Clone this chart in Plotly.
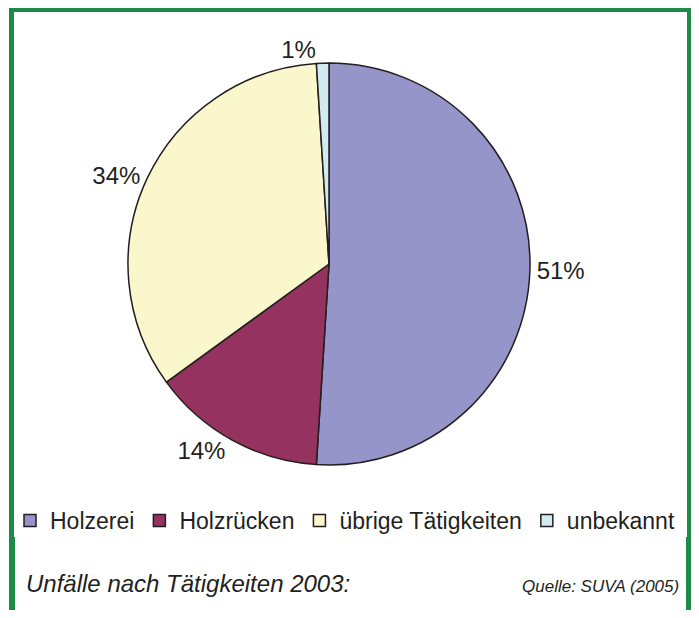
import plotly.graph_objects as go

categories = ["Holzerei", "Holzrücken", "übrige Tätigkeiten", "unbekannt"]
values = [51, 14, 34, 1]
colors = ["#9595C9", "#96325F", "#FBF7CC", "#D2EBF0"]

OFF = 8  # page body margin
W, H = 699 - OFF, 618 - 2 * OFF
def px(x): return (x - OFF) / W
def py(y): return 1 - (y - OFF) / H

FONT = "Arial, Liberation Sans, sans-serif"

fig = go.Figure(go.Pie(
    labels=categories, values=values, sort=False, direction="clockwise", rotation=0,
    marker=dict(colors=colors, line=dict(color="#231F20", width=1.5)),
    textinfo="percent", texttemplate="%{percent:.0%}", textposition="outside",
    textfont=dict(size=24, color="#231F20", family=FONT),
    domain=dict(x=[px(128), px(530)], y=[py(466), py(62)]),
))

green = "#1D8A47"
shapes = [
    dict(type="rect", xref="paper", yref="paper", x0=px(9), x1=px(699), y0=py(12), y1=py(8), fillcolor=green, line_width=0),
    dict(type="rect", xref="paper", yref="paper", x0=px(9), x1=px(14), y0=py(537), y1=py(8), fillcolor=green, line_width=0),
    dict(type="rect", xref="paper", yref="paper", x0=px(9), x1=px(15), y0=py(610), y1=py(537), fillcolor=green, line_width=0),
    dict(type="rect", xref="paper", yref="paper", x0=px(687), x1=px(699), y0=py(537), y1=py(8), fillcolor=green, line_width=0),
    dict(type="rect", xref="paper", yref="paper", x0=px(686), x1=px(699), y0=py(610), y1=py(537), fillcolor=green, line_width=0),
]

fig.update_layout(
    width=W, height=H, margin=dict(l=0, r=0, t=0, b=0),
    paper_bgcolor="white", plot_bgcolor="white",
    font=dict(family=FONT, color="#231F20"),
    showlegend=True,
    legend=dict(orientation="h", x=px(10), y=py(499), xanchor="left", yanchor="top",
                font=dict(size=23, color="#231F20", family=FONT), itemwidth=30, tracegroupgap=0,
                bgcolor="rgba(0,0,0,0)"),
    shapes=shapes,
    annotations=[
        dict(text="<i>Unfälle nach Tätigkeiten 2003:</i>", x=px(24), y=py(583), xref="paper", yref="paper",
             xanchor="left", yanchor="middle", showarrow=False, font=dict(size=24, color="#231F20", family=FONT)),
        dict(text="<i>Quelle: SUVA (2005)</i>", x=px(681), y=py(586), xref="paper", yref="paper",
             xanchor="right", yanchor="middle", showarrow=False, font=dict(size=17, color="#231F20", family=FONT)),
    ],
)

fig.write_html("out.html")
